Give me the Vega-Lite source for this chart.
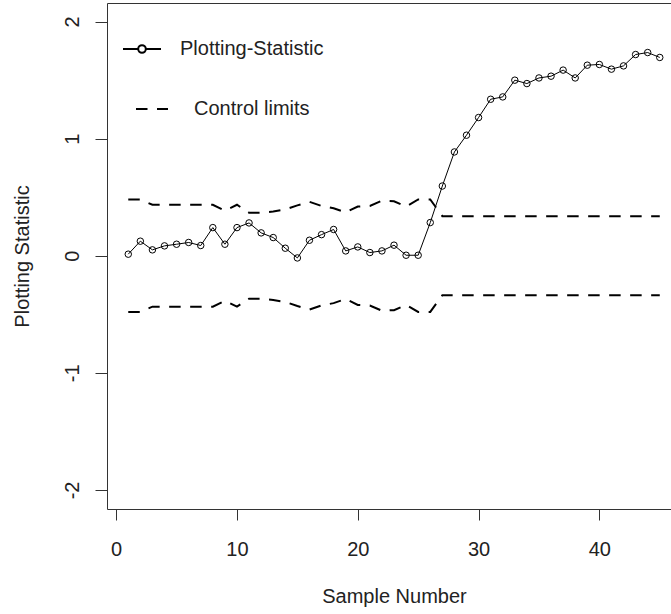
{
  "$schema": "https://vega.github.io/schema/vega-lite/v6.json",
  "width": 564,
  "height": 506,
  "autosize": "none",
  "padding": {"left": 107, "top": 3, "right": 0, "bottom": 105},
  "background": "white",
  "config": {
    "view": {"stroke": null},
    "font": "Liberation Sans",
    "axis": {"grid": false, "domainColor": "#333", "domainWidth": 1, "tickColor": "#333", "tickWidth": 1, "labelColor": "#222", "titleColor": "#222", "labelFont": "Liberation Sans", "titleFont": "Liberation Sans", "labelFontSize": 20, "titleFontSize": 20, "titleFontWeight": "normal"},
    "legend": {"labelFont": "Liberation Sans", "labelFontSize": 20, "labelColor": "#222"}
  },
  "data": {"values": [
    {"sample": 1, "stat": 0.013, "ucl": 0.48, "lcl": -0.48},
    {"sample": 2, "stat": 0.124, "ucl": 0.48, "lcl": -0.48},
    {"sample": 3, "stat": 0.05, "ucl": 0.435, "lcl": -0.435},
    {"sample": 4, "stat": 0.084, "ucl": 0.435, "lcl": -0.435},
    {"sample": 5, "stat": 0.098, "ucl": 0.435, "lcl": -0.435},
    {"sample": 6, "stat": 0.113, "ucl": 0.435, "lcl": -0.435},
    {"sample": 7, "stat": 0.087, "ucl": 0.435, "lcl": -0.435},
    {"sample": 8, "stat": 0.24, "ucl": 0.435, "lcl": -0.435},
    {"sample": 9, "stat": 0.098, "ucl": 0.385, "lcl": -0.385},
    {"sample": 10, "stat": 0.24, "ucl": 0.435, "lcl": -0.435},
    {"sample": 11, "stat": 0.28, "ucl": 0.367, "lcl": -0.367},
    {"sample": 12, "stat": 0.195, "ucl": 0.367, "lcl": -0.367},
    {"sample": 13, "stat": 0.155, "ucl": 0.378, "lcl": -0.378},
    {"sample": 14, "stat": 0.064, "ucl": 0.395, "lcl": -0.395},
    {"sample": 15, "stat": -0.019, "ucl": 0.43, "lcl": -0.43},
    {"sample": 16, "stat": 0.132, "ucl": 0.46, "lcl": -0.46},
    {"sample": 17, "stat": 0.18, "ucl": 0.425, "lcl": -0.425},
    {"sample": 18, "stat": 0.224, "ucl": 0.405, "lcl": -0.405},
    {"sample": 19, "stat": 0.041, "ucl": 0.37, "lcl": -0.37},
    {"sample": 20, "stat": 0.075, "ucl": 0.42, "lcl": -0.42},
    {"sample": 21, "stat": 0.027, "ucl": 0.425, "lcl": -0.425},
    {"sample": 22, "stat": 0.041, "ucl": 0.47, "lcl": -0.47},
    {"sample": 23, "stat": 0.09, "ucl": 0.465, "lcl": -0.465},
    {"sample": 24, "stat": 0.004, "ucl": 0.42, "lcl": -0.42},
    {"sample": 25, "stat": 0.004, "ucl": 0.48, "lcl": -0.48},
    {"sample": 26, "stat": 0.283, "ucl": 0.48, "lcl": -0.48},
    {"sample": 27, "stat": 0.595, "ucl": 0.338, "lcl": -0.338},
    {"sample": 28, "stat": 0.886, "ucl": 0.338, "lcl": -0.338},
    {"sample": 29, "stat": 1.029, "ucl": 0.338, "lcl": -0.338},
    {"sample": 30, "stat": 1.18, "ucl": 0.338, "lcl": -0.338},
    {"sample": 31, "stat": 1.336, "ucl": 0.338, "lcl": -0.338},
    {"sample": 32, "stat": 1.356, "ucl": 0.338, "lcl": -0.338},
    {"sample": 33, "stat": 1.499, "ucl": 0.338, "lcl": -0.338},
    {"sample": 34, "stat": 1.47, "ucl": 0.338, "lcl": -0.338},
    {"sample": 35, "stat": 1.518, "ucl": 0.338, "lcl": -0.338},
    {"sample": 36, "stat": 1.533, "ucl": 0.338, "lcl": -0.338},
    {"sample": 37, "stat": 1.585, "ucl": 0.338, "lcl": -0.338},
    {"sample": 38, "stat": 1.518, "ucl": 0.338, "lcl": -0.338},
    {"sample": 39, "stat": 1.627, "ucl": 0.338, "lcl": -0.338},
    {"sample": 40, "stat": 1.633, "ucl": 0.338, "lcl": -0.338},
    {"sample": 41, "stat": 1.593, "ucl": 0.338, "lcl": -0.338},
    {"sample": 42, "stat": 1.621, "ucl": 0.338, "lcl": -0.338},
    {"sample": 43, "stat": 1.718, "ucl": 0.338, "lcl": -0.338},
    {"sample": 44, "stat": 1.735, "ucl": 0.338, "lcl": -0.338},
    {"sample": 45, "stat": 1.693, "ucl": 0.338, "lcl": -0.338}
  ]},
  "resolve": {"axis": {"x": "independent"}},
  "layer": [
    {
      "mark": {"type": "line", "strokeWidth": 1, "point": {"filled": false, "size": 42, "strokeWidth": 1}},
      "encoding": {
        "x": {"field": "sample", "type": "quantitative", "scale": {"domain": [-0.76, 45.93], "nice": false, "zero": false},
              "axis": {"values": [0, 10, 20, 30, 40], "tickSize": 11, "labelPadding": 35, "labelBaseline": "alphabetic", "labelAlign": "center", "title": "Sample Number", "titleX": 287, "titleY": 93, "titleBaseline": "alphabetic", "titleAlign": "center", "labelFlush": false}},
        "y": {"field": "stat", "type": "quantitative", "scale": {"domain": [-2.163, 2.158], "nice": false, "zero": false},
              "axis": {"values": [-2, -1, 0, 1, 2], "labelExpr": "datum.value + ''", "tickSize": 12, "labelPadding": 17, "labelAngle": -90, "labelAlign": "center", "labelBaseline": "alphabetic", "title": "Plotting Statistic", "titleAngle": -90, "titleX": -79, "titleY": 253, "titleAlign": "center", "titleBaseline": "alphabetic", "labelFlush": false}},
        "color": {"datum": "Plotting-Statistic", "scale": {"range": ["black"]},
                  "legend": {"orient": "none", "legendX": 15, "legendY": 26, "title": null, "padding": 0, "offset": 0,
                             "symbolType": "M-1,0L-0.2,0M0.2,0L1,0M-0.2,0A0.2,0.2,0,1,1,0.2,0A0.2,0.2,0,1,1,-0.2,0",
                             "symbolSize": 1444, "symbolStrokeWidth": 2, "symbolFillColor": "transparent", "symbolStrokeColor": "black",
                             "labelOffset": 18, "labelLimit": 0}}
      }
    },
    {
      "transform": [{"fold": ["ucl", "lcl"], "as": ["limit", "value"]}],
      "mark": {"type": "line", "strokeWidth": 2, "color": "black"},
      "encoding": {
        "x": {"field": "sample", "type": "quantitative",
              "axis": {"orient": "top", "labels": false, "ticks": false, "title": null, "domain": true}},
        "y": {"field": "value", "type": "quantitative",
              "axis": {"values": [-2, -1, 0, 1, 2], "labelExpr": "datum.value + ''", "tickSize": 12, "labelPadding": 17, "labelAngle": -90, "labelAlign": "center", "labelBaseline": "alphabetic", "title": "Plotting Statistic", "titleAngle": -90, "titleX": -79, "titleY": 253, "titleAlign": "center", "titleBaseline": "alphabetic", "labelFlush": false}},
        "detail": {"field": "limit"},
        "strokeDash": {"datum": "Control limits", "scale": {"range": [[11.5, 9.5]]},
                       "legend": {"orient": "none", "legendX": 28, "legendY": 89, "title": null, "padding": 0, "offset": 0,
                                  "symbolType": "stroke", "symbolSize": 1024, "symbolStrokeWidth": 2, "symbolStrokeColor": "black",
                                  "labelOffset": 25, "labelLimit": 0}}
      }
    }
  ]
}
